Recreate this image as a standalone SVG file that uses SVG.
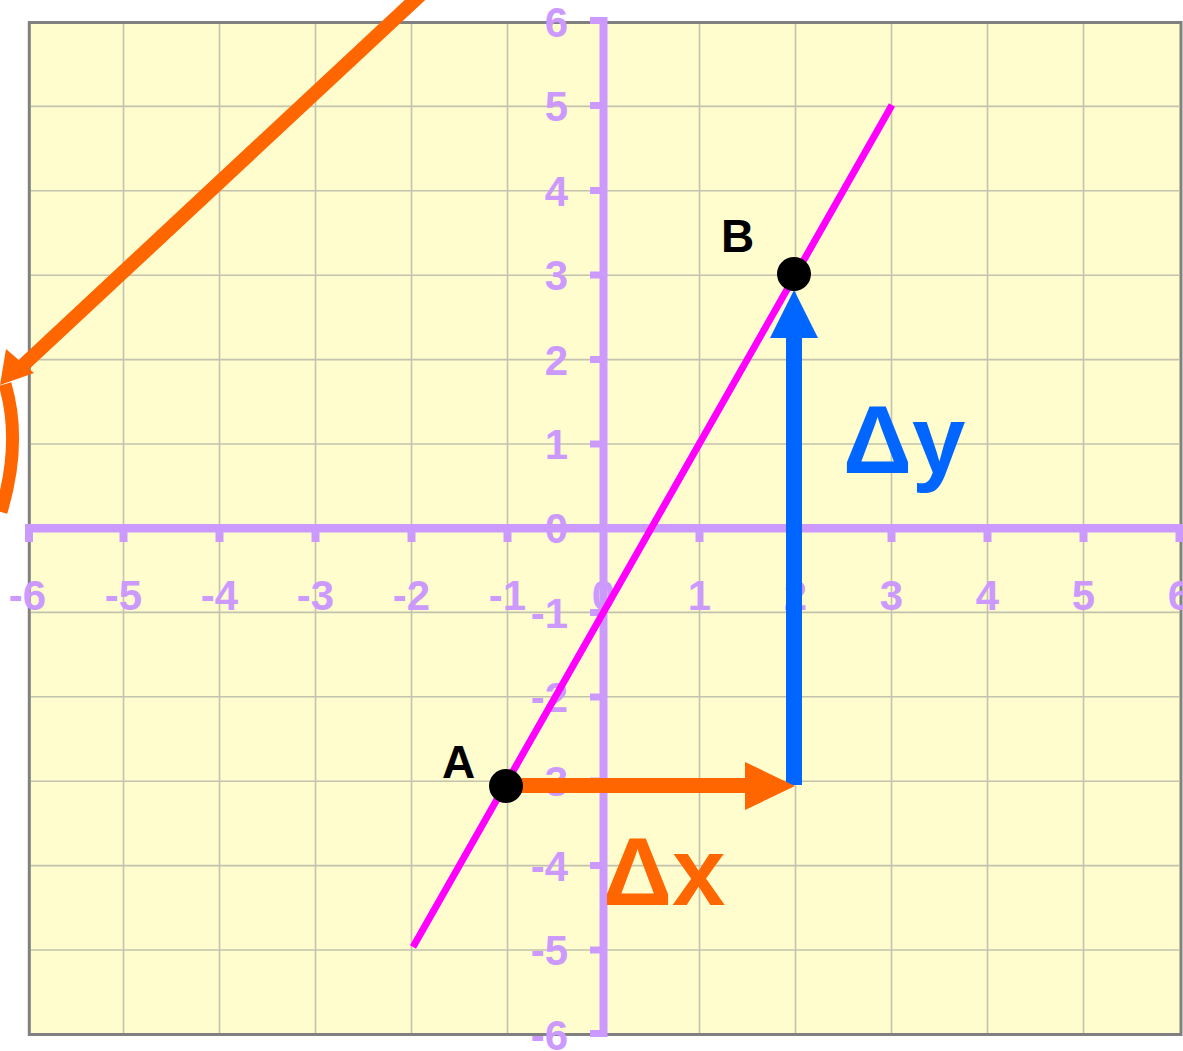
<svg xmlns="http://www.w3.org/2000/svg" width="1183" height="1051" viewBox="0 0 1183 1051">
  <style>
    .grid { stroke: #C2C2AE; stroke-width: 1.6; fill: none; }
    .axis { fill: #CC99FF; }
    .tl { font-family: "Liberation Sans", Arial, sans-serif; font-weight: bold; font-size: 42px; fill: #CC99FF; }
    .xl { text-anchor: middle; }
    .yl { text-anchor: end; }
    .pt { font-family: "Liberation Sans", Arial, sans-serif; font-weight: bold; font-size: 46px; fill: #000; }
    .delta { font-family: "Liberation Sans", Arial, sans-serif; font-weight: bold; font-size: 96px; }
  </style>
  <rect x="0" y="0" width="1183" height="1051" fill="#FFFFFF"/>
  <g id="plot-frame">
    <rect x="29.3" y="22.5" width="1151.7" height="1012" fill="#FFFDCD" stroke="#808080" stroke-width="3"/>
  </g>
  <g id="grid">
    <path class="grid" d="M123.5 24V1033 M219.5 24V1033 M315.5 24V1033 M411.5 24V1033 M507.5 24V1033 M699.5 24V1033 M795.5 24V1033 M891.5 24V1033 M987.5 24V1033 M1083.5 24V1033 M31 106.4H1179 M31 190.8H1179 M31 275.2H1179 M31 359.6H1179 M31 444H1179 M31 612.4H1179 M31 696.8H1179 M31 781.2H1179 M31 865.6H1179 M31 950H1179"/>
  </g>
  <g id="axes">
    <rect class="axis" x="25" y="524" width="1158" height="8.5"/>
    <rect class="axis" x="599.5" y="17" width="8" height="1020"/>
    <g id="x-ticks">
      <rect class="axis" x="25" y="528" width="8" height="14"/>
      <rect class="axis" x="119.5" y="528" width="8" height="14"/>
      <rect class="axis" x="215.5" y="528" width="8" height="14"/>
      <rect class="axis" x="311.5" y="528" width="8" height="14"/>
      <rect class="axis" x="407.5" y="528" width="8" height="14"/>
      <rect class="axis" x="503.5" y="528" width="8" height="14"/>
      <rect class="axis" x="695.5" y="528" width="8" height="14"/>
      <rect class="axis" x="791.5" y="528" width="8" height="14"/>
      <rect class="axis" x="887.5" y="528" width="8" height="14"/>
      <rect class="axis" x="983.5" y="528" width="8" height="14"/>
      <rect class="axis" x="1079.5" y="528" width="8" height="14"/>
      <rect class="axis" x="1175.5" y="528" width="8" height="14"/>
    </g>
    <g id="y-ticks">
      <rect class="axis" x="590" y="17" width="14" height="7"/>
      <rect class="axis" x="590" y="102" width="14" height="7"/>
      <rect class="axis" x="590" y="187" width="14" height="7"/>
      <rect class="axis" x="590" y="271.5" width="14" height="7"/>
      <rect class="axis" x="590" y="356" width="14" height="7"/>
      <rect class="axis" x="590" y="440.5" width="14" height="7"/>
      <rect class="axis" x="590" y="609" width="14" height="7"/>
      <rect class="axis" x="590" y="693.5" width="14" height="7"/>
      <rect class="axis" x="590" y="777.5" width="14" height="7"/>
      <rect class="axis" x="590" y="862" width="14" height="7"/>
      <rect class="axis" x="590" y="946.5" width="14" height="7"/>
      <rect class="axis" x="590" y="1030" width="14" height="7"/>
    </g>
  </g>
  <g id="x-labels" class="tl xl">
    <text x="27.5" y="610">-6</text>
    <text x="123.5" y="610">-5</text>
    <text x="219.5" y="610">-4</text>
    <text x="315.5" y="610">-3</text>
    <text x="411.5" y="610">-2</text>
    <text x="507.5" y="610">-1</text>
    <text x="603.5" y="610">0</text>
    <text x="699.5" y="610">1</text>
    <text x="795.5" y="610">2</text>
    <text x="891.5" y="610">3</text>
    <text x="987.5" y="610">4</text>
    <text x="1083.5" y="610">5</text>
    <text x="1179.5" y="610">6</text>
  </g>
  <g id="y-labels" class="tl yl">
    <text x="568" y="37">6</text>
    <text x="568" y="121">5</text>
    <text x="568" y="205.5">4</text>
    <text x="568" y="290">3</text>
    <text x="568" y="374.5">2</text>
    <text x="568" y="459">1</text>
    <text x="568" y="543">0</text>
    <text x="568" y="627.5">-1</text>
    <text x="568" y="712">-2</text>
    <text x="568" y="796">-3</text>
    <text x="568" y="880.5">-4</text>
    <text x="568" y="965">-5</text>
    <text x="568" y="1049.5">-6</text>
  </g>
  <g id="connectors">
    <line id="line-AB" x1="413" y1="947" x2="892" y2="105" stroke="#FF00FF" stroke-width="7"/>
    <g id="dy-arrow" fill="#0066FF">
      <rect x="786" y="335" width="16" height="450"/>
      <polygon points="770,338 818,338 794,290"/>
    </g>
    <g id="dx-arrow" fill="#FF6600">
      <rect x="506" y="778" width="242" height="15"/>
      <polygon points="745,762 745,810 795,786"/>
    </g>
    <g id="turn-arrow">
      <line x1="430" y1="-14" x2="18" y2="370" stroke="#FF6600" stroke-width="14"/>
      <polygon points="0,385 6,349 34,373" fill="#FF6600"/>
      <path d="M5,384 Q22,442 1,512" fill="none" stroke="#FF6600" stroke-width="13"/>
    </g>
  </g>
  <g id="point-A">
    <circle cx="506" cy="786" r="17" fill="#000"/>
    <text class="pt" x="442" y="778">A</text>
  </g>
  <g id="point-B">
    <circle cx="794" cy="274" r="17" fill="#000"/>
    <text class="pt" x="721" y="252">B</text>
  </g>
  <g id="label-dx">
    <text class="delta" x="603" y="905" fill="#FF6600">Δx</text>
  </g>
  <g id="label-dy">
    <text class="delta" x="843" y="473" fill="#0066FF">Δy</text>
  </g>
</svg>
